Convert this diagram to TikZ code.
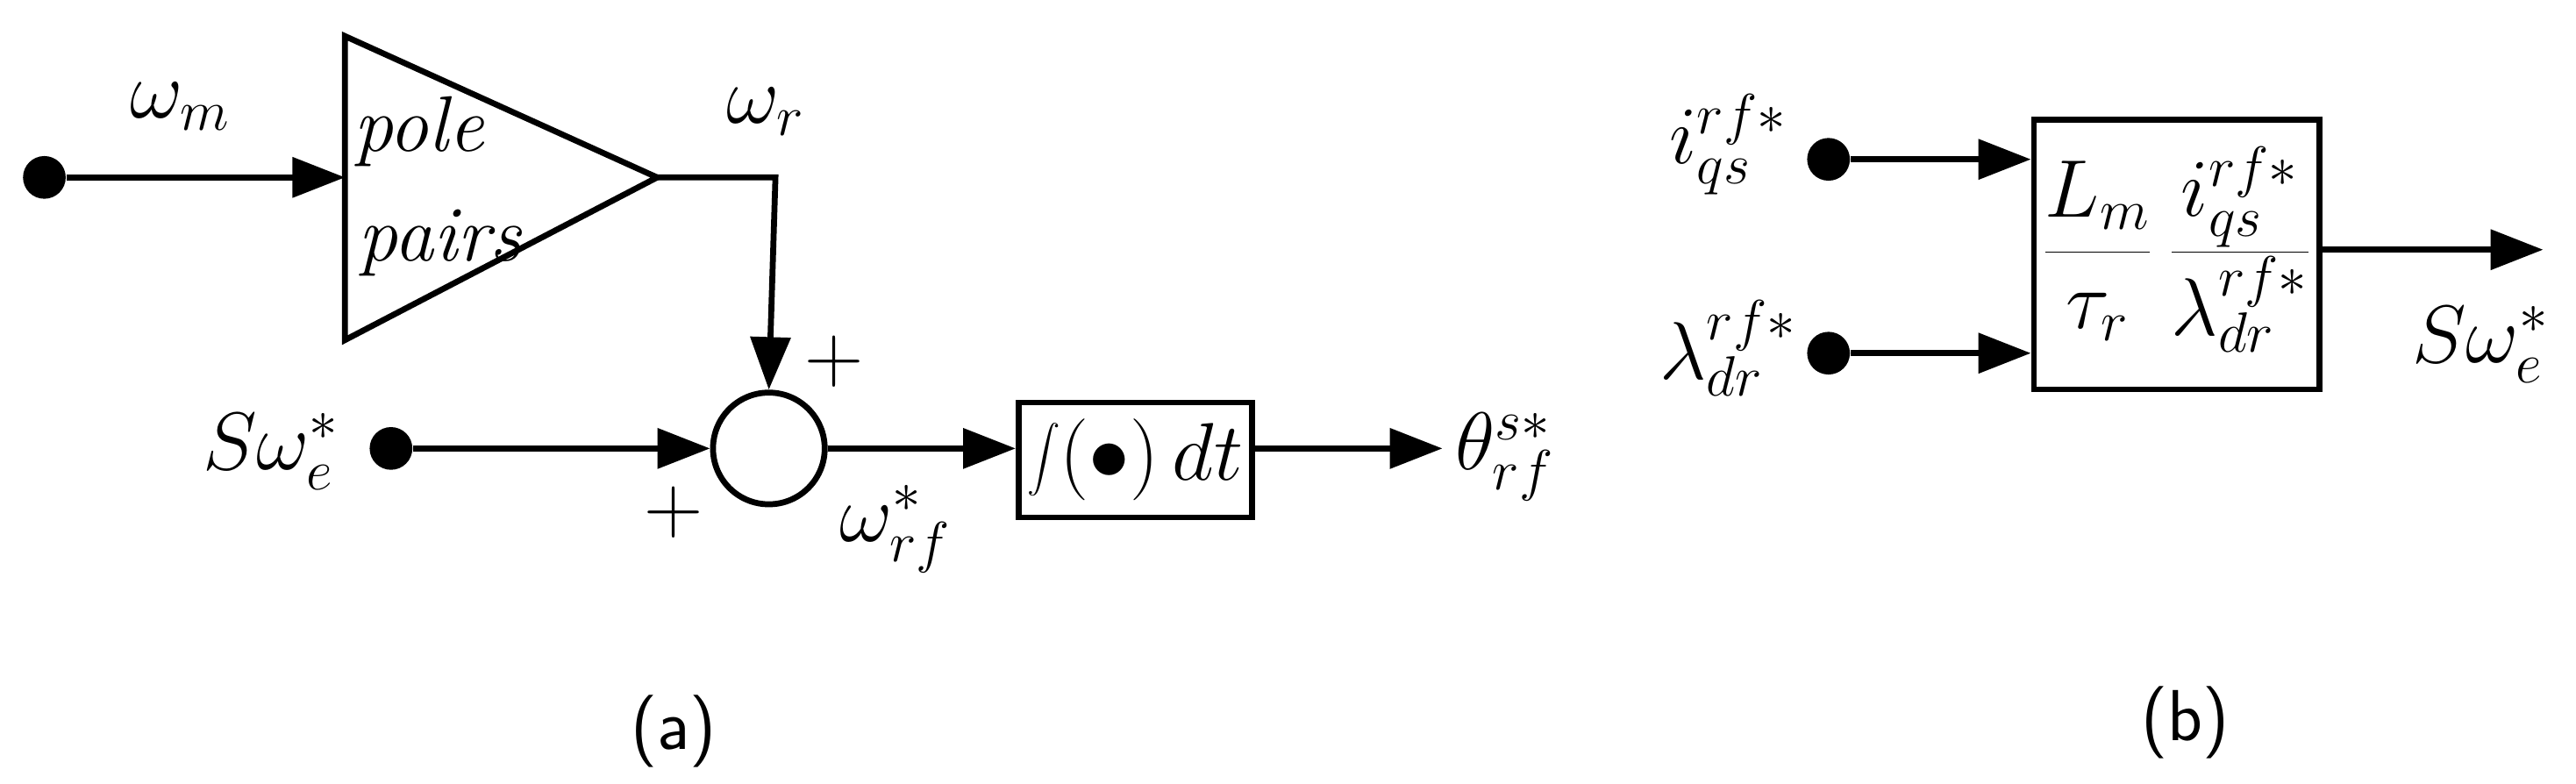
\documentclass[tikz,border=0pt]{standalone}
\usetikzlibrary{arrows.meta}
\begin{document}
\begin{tikzpicture}[x=0.5pt,y=-0.5pt,
  ln/.style={line width=1.8pt},
  ar/.style={ln,-{Triangle[length=16pt,width=12pt]}},
  dot/.style={circle,fill,inner sep=0pt,minimum size=13pt},
  lbl/.style={font=\fontsize{24}{28}\selectfont},
  captxt/.style={font=\sffamily\fontsize{22}{26}\selectfont}]
\useasboundingbox (0,0) rectangle (1568,477);
% (a)
\node[dot] (wm) at (27,108) {};
\coordinate (tl) at (210,108);
\draw[ln] (210,22) -- (400,108) -- (210,207) -- cycle;
\coordinate (apex) at (400,108);
\draw[ar] (wm) -- (tl);
\node[lbl] (lwm) at (110,65) {$\omega_m$};
\node[lbl] (lp1) at (255,80) {\textit{pole}};
\node[lbl] (lp2) at (268,148) {\textit{pairs}};
\node[lbl] (lwr) at (466,68) {$\omega_r$};
\node[draw,circle,ln,minimum size=34pt,inner sep=0pt] (sum) at (468,273) {};
\coordinate (corner) at (472,108);
\draw[ar] (apex) -- (corner) -- (sum.north);
\node[lbl] (pl1) at (508,220) {$+$};
\node[lbl] (pl2) at (410,312) {$+$};
\node[dot] (sw) at (238,273) {};
\node[lbl] (lsw) at (165,275) {$S\omega_e^*$};
\draw[ar] (sw) -- (sum.west);
\node[draw,ln,minimum width=71pt,minimum height=35pt,inner sep=2pt,lbl] (int) at (691,280) {$\displaystyle\int\!\left(\bullet\right)dt$};
\draw[ar] (sum.east) -- (int.west |- sum.east);
\node[lbl] (lwrf) at (545,322) {$\omega_{rf}^*$};
\coordinate (out1) at (878,273);
\draw[ar] (int.east |- sum.east) -- (out1);
\node[lbl] (lth) at (916,278) {$\theta_{rf}^{s*}$};
\node[captxt] (ca) at (410,445) {(a)};
% (b)
\node[draw,ln,minimum width=87pt,minimum height=82pt] (box) at (1325,155) {};
\node[lbl] at (1325,152) {$\displaystyle\frac{L_m}{\tau_r}\,\frac{i_{qs}^{rf*}}{\lambda_{dr}^{rf*}}$};
\node[dot] (d1) at (1113,97) {};
\node[dot] (d2) at (1113,215) {};
\draw[ar] (d1) -- (box.west |- d1);
\draw[ar] (d2) -- (box.west |- d2);
\node[lbl] (li) at (1052,88) {$i_{qs}^{rf*}$};
\node[lbl] (ll) at (1052,212) {$\lambda_{dr}^{rf*}$};
\coordinate (out2) at (1548,152);
\draw[ar] (box.east |- out2) -- (out2);
\node[lbl] (lsw2) at (1510,210) {$S\omega_e^*$};
\node[captxt] (cb) at (1330,440) {(b)};
\end{tikzpicture}
\end{document}
